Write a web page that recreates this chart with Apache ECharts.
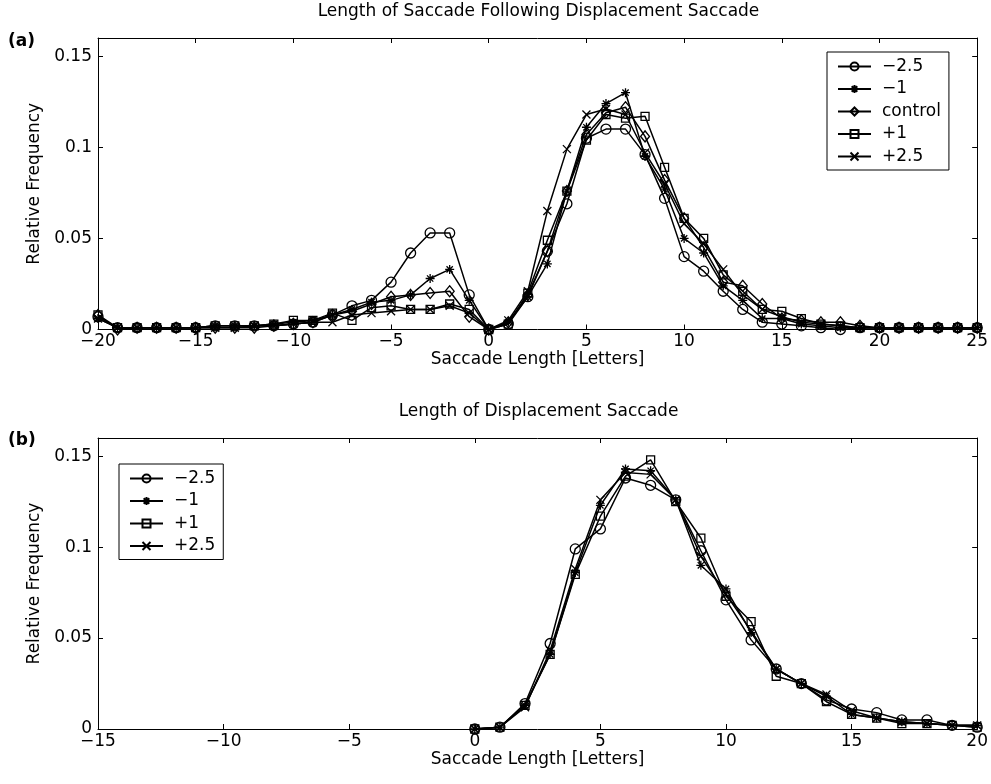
<!DOCTYPE html>
<html><head><meta charset="utf-8">
<script src="https://cdn.jsdelivr.net/npm/echarts@6/dist/echarts.min.js"></script>
<style>html,body{margin:0;padding:0;background:#fff}#c{width:991px;height:784px}</style>
</head><body><div id="c"></div>
<script>
// ---------- Data ----------
const xA = [-20,-19,-18,-17,-16,-15,-14,-13,-12,-11,-10,-9,-8,-7,-6,-5,-4,-3,-2,-1,0,1,2,3,4,5,6,7,8,9,10,11,12,13,14,15,16,17,18,19,20,21,22,23,24,25];
const a_m25 = [0.007,0.001,0.001,0.001,0.001,0.001,0.002,0.002,0.002,0.002,0.003,0.004,0.008,0.013,0.016,0.026,0.042,0.053,0.053,0.019,0,0.003,0.018,0.043,0.069,0.105,0.110,0.110,0.096,0.072,0.040,0.032,0.021,0.011,0.004,0.003,0.002,0.001,0.000,0.001,0.001,0.001,0.001,0.001,0.001,0.001];
const a_m1  = [0.006,0.001,0.001,0.001,0.001,0.001,0.002,0.002,0.002,0.003,0.004,0.005,0.008,0.011,0.015,0.016,0.019,0.028,0.033,0.016,0,0.004,0.018,0.036,0.076,0.111,0.124,0.130,0.095,0.077,0.050,0.042,0.024,0.016,0.006,0.006,0.003,0.002,0.001,0.001,0.001,0.001,0.001,0.001,0.001,0.001];
const a_ctl = [0.008,0.000,0.001,0.001,0.001,0.001,0.001,0.001,0.001,0.002,0.003,0.004,0.008,0.010,0.014,0.018,0.019,0.020,0.021,0.007,0,0.004,0.019,0.043,0.076,0.107,0.119,0.122,0.106,0.082,0.061,0.045,0.026,0.024,0.014,0.006,0.005,0.004,0.004,0.002,0.001,0.001,0.001,0.001,0.001,0.001];
const a_p1  = [0.008,0.001,0.001,0.001,0.001,0.001,0.002,0.002,0.002,0.003,0.005,0.005,0.009,0.005,0.012,0.013,0.011,0.011,0.014,0.011,0,0.003,0.020,0.049,0.076,0.104,0.118,0.116,0.117,0.089,0.061,0.050,0.030,0.021,0.011,0.010,0.006,0.003,0.002,0.001,0.001,0.001,0.001,0.001,0.001,0.001];
const a_p25 = [0.006,0.001,0.001,0.001,0.001,0.001,0.001,0.001,0.002,0.002,0.003,0.004,0.004,0.008,0.009,0.010,0.011,0.011,0.013,0.009,0,0.005,0.021,0.065,0.099,0.118,0.121,0.118,0.097,0.080,0.058,0.047,0.033,0.019,0.011,0.007,0.004,0.003,0.002,0.001,0.001,0.001,0.001,0.001,0.001,0.001];

const xB = [0,1,2,3,4,5,6,7,8,9,10,11,12,13,14,15,16,17,18,19,20];
const b_m25 = [0,0.001,0.014,0.047,0.099,0.110,0.138,0.134,0.126,0.098,0.071,0.049,0.033,0.025,0.016,0.011,0.009,0.005,0.005,0.002,0.001];
const b_m1  = [0,0.001,0.013,0.041,0.086,0.123,0.143,0.142,0.126,0.090,0.077,0.053,0.033,0.025,0.018,0.008,0.006,0.004,0.003,0.002,0.002];
const b_p1  = [0,0.001,0.013,0.041,0.085,0.117,0.139,0.148,0.125,0.105,0.073,0.059,0.029,0.025,0.015,0.008,0.006,0.003,0.003,0.002,0.001];
const b_p25 = [0,0.001,0.012,0.043,0.088,0.126,0.141,0.140,0.126,0.095,0.074,0.054,0.033,0.025,0.019,0.010,0.006,0.004,0.003,0.002,0.002];

const namesA = ['\u22122.5','\u22121','control','+1','+2.5'];
const namesB = ['\u22122.5','\u22121','+1','+2.5'];
const titleA = 'Length of Saccade Following Displacement Saccade';
const titleB = 'Length of Displacement Saccade';
const xName = 'Saccade Length [Letters]';
const yName = 'Relative Frequency';

// ---------- Styles ----------
const FONT = "'DejaVu Sans', 'Liberation Sans', Arial, sans-serif";
const FS = 17;
const SYM = {
  circle: 'circle',
  star: 'path://M-10,0L10,0M0,-10L0,10M-7,-7L7,7M-7,7L7,-7',
  diamond: 'path://M0,-10L7,0L0,10L-7,0Z',
  square: 'path://M-10,-10L10,-10L10,10L-10,10Z',
  cross: 'path://M-10,-10L10,10M-10,10L10,-10'
};
const symA = [SYM.circle, SYM.star, SYM.diamond, SYM.square, SYM.cross];
const symB = [SYM.circle, SYM.star, SYM.square, SYM.cross];
const sizeA = [10, 9, [9,11], 8, 8];
const sizeB = [10, 9, 8, 8];

function zip(xs, ys){ return xs.map((x,i)=>[x, ys[i]]); }
function mkSeries(name, xs, ys, sym, size, gi){
  return {
    type:'line', name, xAxisIndex: gi*2, yAxisIndex: gi*2,
    data: zip(xs, ys), symbol: sym, symbolSize: size, showSymbol:true,
    lineStyle:{color:'#000', width:1.5},
    itemStyle:{color:'rgba(255,255,255,0)', borderColor:'#000', borderWidth:1.3},
    emphasis:{disabled:true}, animation:false, z: 3
  };
}
const minusFmt = v => (v < 0 ? '\u2212' + Math.abs(v) : String(v));
const yFmt = v => (v === 0 ? '0' : String(+v.toFixed(2)));
function xAxes(gi, min, max){
  const base = {type:'value', gridIndex:gi, min, max, interval:5,
    axisLine:{onZero:false, lineStyle:{color:'#000', width:1}},
    axisTick:{inside:true, length:5, lineStyle:{color:'#000'}},
    splitLine:{show:false}};
  return [
    Object.assign({}, base, {position:'bottom', name:xName, nameLocation:'middle', nameGap:19,
      nameTextStyle:{fontFamily:FONT, fontSize:FS, color:'#000'},
      axisLabel:{formatter:minusFmt, fontFamily:FONT, fontSize:FS, color:'#000', margin:4}}),
    Object.assign({}, base, {position:'top', axisLabel:{show:false}})
  ];
}
function yAxes(gi){
  const base = {type:'value', gridIndex:gi, min:0, max:0.16, interval:0.05,
    axisLine:{show:true, onZero:false, lineStyle:{color:'#000', width:1}},
    axisTick:{show:true, inside:true, length:5, lineStyle:{color:'#000'}},
    splitLine:{show:false}};
  return [
    Object.assign({}, base, {position:'left', name:yName, nameLocation:'middle', nameGap:50,
      nameTextStyle:{fontFamily:FONT, fontSize:FS, color:'#000'},
      axisLabel:{formatter:yFmt, fontFamily:FONT, fontSize:FS, color:'#000', margin:6, showMaxLabel:false}}),
    Object.assign({}, base, {position:'right', axisLabel:{show:false}})
  ];
}

const series = [];
namesA.forEach((n,i)=>series.push(mkSeries(n, xA, [a_m25,a_m1,a_ctl,a_p1,a_p25][i], symA[i], sizeA[i], 0)));
namesB.forEach((n,i)=>series.push(mkSeries(n, xB, [b_m25,b_m1,b_p1,b_p25][i], symB[i], sizeB[i], 1)));

const legendBase = {orient:'vertical', borderColor:'#000', borderWidth:1, borderRadius:0,
  backgroundColor:'#fff', itemWidth:33, itemHeight:10, itemGap:5.5, selectedMode:false,
  textStyle:{fontFamily:FONT, fontSize:FS, color:'#000', lineHeight:17, padding:[0,0,0,6]}};

const option = {
  animation:false,
  backgroundColor:'#fff',
  grid:[
    {left:98, right:12, top:38, height:291.5},
    {left:98, right:12, top:438, height:291}
  ],
  xAxis:[...xAxes(0,-20,25), ...xAxes(1,-15,20)],
  yAxis:[...yAxes(0), ...yAxes(1)],
  legend:[
    Object.assign({}, legendBase, {data:namesA, left:827, top:52, padding:[6,8,5,10]}),
    Object.assign({}, legendBase, {data:namesB, left:119, top:464, padding:[6,8,5,10]})
  ],
  graphic:[
    {type:'text', x:538.5, y:12, style:{text:titleA, font:FS+'px '+FONT, fill:'#000', textAlign:'center', textVerticalAlign:'middle'}},
    {type:'text', x:538.5, y:412, style:{text:titleB, font:FS+'px '+FONT, fill:'#000', textAlign:'center', textVerticalAlign:'middle'}},
    {type:'text', x:8, y:42, style:{text:'(a)', font:'bold '+FS+'px '+FONT, fill:'#000', textAlign:'left', textVerticalAlign:'middle'}},
    {type:'text', x:8, y:441, style:{text:'(b)', font:'bold '+FS+'px '+FONT, fill:'#000', textAlign:'left', textVerticalAlign:'middle'}}
  ],
  series
};
const chart = echarts.init(document.getElementById('c'), null, {renderer:'canvas'});
chart.setOption(option);
</script></body></html>
